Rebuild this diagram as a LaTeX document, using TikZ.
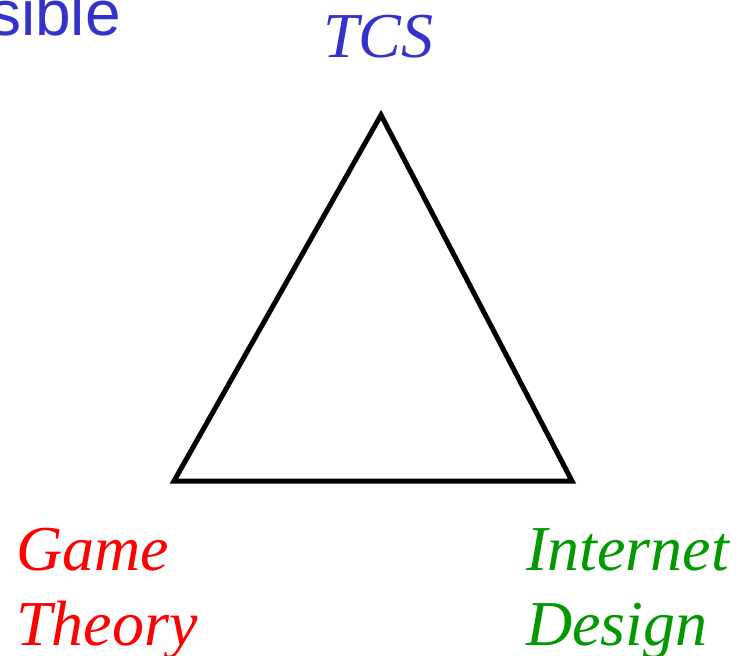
\documentclass[tikz,border=0pt]{standalone}
\usepackage{fontspec}
\setmainfont{Liberation Serif}
\newfontfamily\arialfont{Liberation Sans}
\definecolor{tcsblue}{RGB}{51,51,204}
\definecolor{gtred}{RGB}{255,0,0}
\definecolor{idgreen}{RGB}{0,153,0}
\begin{document}
\begin{tikzpicture}[x=1pt,y=-1pt,
  lbl/.style={inner sep=0pt,anchor=base west,font=\fontsize{64}{75}\selectfont\itshape,align=left},
  edge/.style={line width=5pt,line join=miter}]
\useasboundingbox (0,0) rectangle (748,656);
\begin{scope}
\clip (0,0) rectangle (748,656);
\node[inner sep=0pt,anchor=base east,text=tcsblue,font=\arialfont\fontsize{64}{70}\selectfont] (sib) at (121,35) {sible};
\end{scope}
\node[lbl,text=tcsblue] (tcs) at (323,57) {TCS};
\node[lbl,text=gtred] (game) at (16,570) {Game};
\node[lbl,text=gtred] (theory) at (16,645) {Theory};
\node[lbl,text=idgreen] (inet) at (526,570) {Internet};
\node[lbl,text=idgreen] (design) at (526,645) {Design};
\coordinate (top) at (381,115);
\coordinate (bl) at (174,481);
\coordinate (br) at (572,481);
\draw[edge] (top) -- (bl) -- (br) -- cycle;
\end{tikzpicture}
\end{document}
